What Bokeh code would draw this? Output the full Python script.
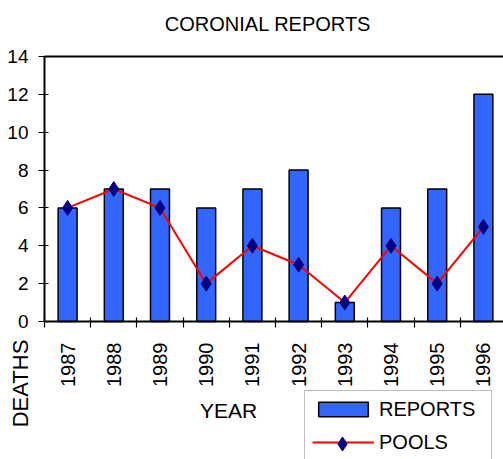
import math
from bokeh.plotting import figure
from bokeh.models import (Range1d, LinearAxis, FixedTicker, Legend, LegendItem, Label)
from bokeh.embed import file_html
from bokeh.resources import INLINE

# ---- data ----
years = ["1987", "1988", "1989", "1990", "1991", "1992", "1993", "1994", "1995", "1996"]
reports = [6, 7, 7, 6, 7, 8, 1, 6, 7, 12]
pools = [6, 7, 6, 2, 4, 3, 1, 4, 2, 5]
y_ticks = [0, 2, 4, 6, 8, 10, 12, 14]

xs = list(range(len(years)))
FONT = "Liberation Sans"
INK = "black"

# frame covers the whole canvas; axes are pinned at fixed data locations
p = figure(width=503, height=459, output_backend="svg", toolbar_location=None,
           x_range=Range1d(-1.4524, 9.435), y_range=Range1d(-7.290, 16.958),
           x_axis_type=None, y_axis_type=None, title=None,
           min_border_left=0, min_border_right=0, min_border_bottom=0,
           min_border_top=0, outline_line_color=None,
           background_fill_color="white", border_fill_color="white")
p.grid.visible = False

# y axis
yax = LinearAxis(ticker=FixedTicker(ticks=y_ticks), fixed_location=-0.5, bounds=(0, 14))
yax.axis_line_width = 2
yax.axis_line_color = INK
yax.major_tick_in = 4
yax.major_tick_out = 6
yax.major_tick_line_width = 1.2
yax.major_tick_line_color = INK
yax.minor_tick_line_color = None
yax.major_label_text_font = FONT
yax.major_label_text_font_size = "19px"
yax.major_label_text_color = INK
yax.major_label_standoff = 10
p.add_layout(yax, "left")

# x axis: labels at category centers, ticks at category boundaries
xax = LinearAxis(ticker=FixedTicker(ticks=xs, minor_ticks=[i - 0.5 for i in range(len(years) + 1)]),
                 fixed_location=0, bounds=(-0.5, len(years) - 0.5))
xax.major_label_overrides = {i: y for i, y in enumerate(years)}
xax.axis_line_width = 2
xax.axis_line_color = INK
xax.major_tick_line_color = None
xax.major_tick_in = 0
xax.major_tick_out = 0
xax.minor_tick_in = 4
xax.minor_tick_out = 6
xax.minor_tick_line_color = INK
xax.minor_tick_line_width = 1.2
xax.major_label_orientation = math.pi / 2
xax.major_label_text_font = FONT
xax.major_label_text_font_size = "20px"
xax.major_label_text_color = INK
xax.major_label_standoff = 15
p.add_layout(xax, "below")

# top frame line
tax = LinearAxis(ticker=FixedTicker(ticks=[]), fixed_location=14, bounds=(-0.5, len(years) - 0.5))
tax.axis_line_width = 2
tax.axis_line_color = INK
tax.major_tick_line_color = None
tax.minor_tick_line_color = None
tax.major_label_text_font_size = "0px"
p.add_layout(tax, "above")

bars = p.vbar(x=xs, top=reports, width=0.41, fill_color="#3366FF",
              line_color="black", line_width=1.5)
ln = p.line(xs, pools, line_color="red", line_width=2)
pts = p.scatter(xs, pools, marker="diamond", size=15,
                fill_color="#000080", line_color="#000080")

# main legend (box, labels, bar and line glyphs)
legend = Legend(items=[LegendItem(label="REPORTS", renderers=[bars]),
                       LegendItem(label="POOLS", renderers=[ln])],
                location=(304, -2.5))
legend.label_text_font = FONT
legend.label_text_font_size = "20px"
legend.label_text_color = INK
legend.glyph_width = 62
legend.glyph_height = 18
legend.label_height = 20
legend.label_width = 105
legend.label_standoff = 5
legend.spacing = 10
legend.padding = 7
legend.border_line_color = "#808080"
legend.border_line_width = 1
legend.background_fill_color = "white"
legend.background_fill_alpha = 1
p.add_layout(legend)

# marker legend overlaid on the POOLS row
mleg = Legend(items=[LegendItem(label=" ", renderers=[pts])], location=(311, -1.5))
mleg.glyph_width = 62
mleg.glyph_height = 35
mleg.label_height = 20
mleg.padding = 0
mleg.label_width = 1
mleg.label_standoff = 0
mleg.label_text_font_size = "20px"
mleg.border_line_color = None
mleg.background_fill_alpha = 0
p.add_layout(mleg)

p.add_layout(Label(x=4.338, y=15.727, text="CORONIAL REPORTS",
                   text_align="center", text_baseline="middle", text_color=INK,
                   text_font=FONT, text_font_size="20px"))
p.add_layout(Label(x=-1.03, y=-3.275, text="DEATHS", angle=math.pi / 2,
                   text_align="center", text_baseline="middle", text_color=INK,
                   text_font=FONT, text_font_size="22px"))
p.add_layout(Label(x=3.483, y=-4.70, text="YEAR",
                   text_align="center", text_baseline="middle", text_color=INK,
                   text_font=FONT, text_font_size="21px"))

open("out.html", "w").write(file_html(p, INLINE))
